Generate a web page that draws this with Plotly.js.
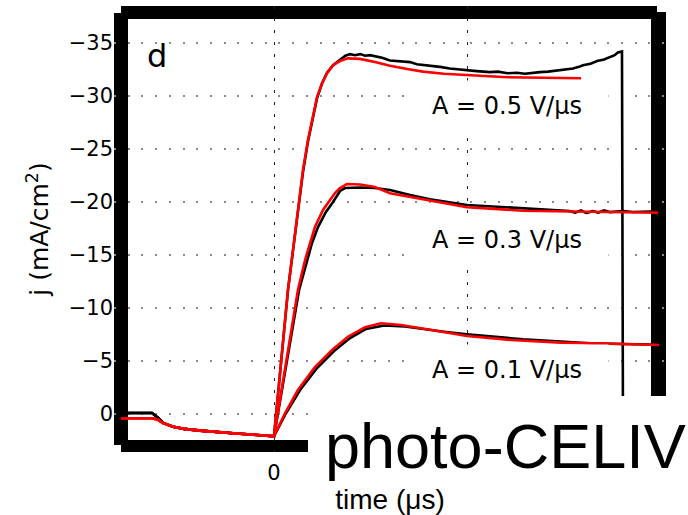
<!DOCTYPE html>
<html>
<head>
<meta charset="utf-8">
<script src="https://cdn.plot.ly/plotly-3.0.1.min.js"></script>
<style>html,body{margin:0;padding:0;background:#fff;}#chart{width:688px;height:515px;}</style>
</head>
<body>
<div id="chart"></div>
<script>
// ---- data (time in grid units, j in mA/cm^2) ----
const tPre     = [-0.793, -0.632, -0.601, -0.575, -0.523, -0.466, -0.383, -0.300, -0.212, -0.104];
const jPreData = [-0.1, -0.1, 0.35, 0.85, 1.2, 1.4, 1.57, 1.72, 1.82, 1.96];
const jPreFit  = [0.4, 0.4, 0.55, 0.85, 1.2, 1.4, 1.57, 1.72, 1.82, 1.96];

const t05data = [0, 0.0725, 0.114, 0.150, 0.176, 0.197, 0.223, 0.249, 0.275, 0.306, 0.342, 0.370, 0.394, 0.420, 0.446, 0.472, 0.497, 0.523, 0.560, 0.601, 0.650, 0.705, 0.740, 0.772, 0.815, 0.860, 0.910, 0.955, 1.000, 1.050, 1.119, 1.160, 1.210, 1.259, 1.300, 1.340, 1.378, 1.420, 1.466, 1.510, 1.549, 1.580, 1.601, 1.640, 1.674, 1.710, 1.741, 1.765, 1.782, 1.803, 1.808];
const j05data = [2.1, -11.7, -17.6, -22.8, -25.7, -27.6, -29.8, -31.2, -32.2, -32.9, -33.4, -33.8, -33.95, -33.85, -33.95, -33.8, -33.85, -33.75, -33.6, -33.35, -33.3, -33.2, -33.0, -32.95, -32.85, -32.75, -32.6, -32.5, -32.4, -32.35, -32.25, -32.3, -32.15, -32.2, -32.1, -32.2, -32.25, -32.3, -32.4, -32.45, -32.6, -32.75, -32.9, -33.05, -33.3, -33.45, -33.7, -33.85, -34.1, -34.2, 0];
const t05fit  = [0, 0.0725, 0.114, 0.150, 0.176, 0.197, 0.223, 0.249, 0.275, 0.306, 0.342, 0.383, 0.446, 0.523, 0.601, 0.690, 0.772, 0.880, 1.000, 1.100, 1.207, 1.300, 1.378, 1.480, 1.591];
const j05fit  = [2.1, -11.7, -17.8, -23.0, -25.85, -27.7, -29.9, -31.2, -32.15, -32.9, -33.3, -33.55, -33.5, -33.2, -32.85, -32.55, -32.3, -32.1, -31.98, -31.86, -31.77, -31.74, -31.72, -31.7, -31.67];

const t03data = [0, 0.130, 0.171, 0.197, 0.228, 0.269, 0.306, 0.342, 0.368, 0.446, 0.523, 0.601, 0.705, 0.808, 1.000, 1.207, 1.466, 1.530, 1.560, 1.590, 1.620, 1.650, 1.680, 1.710, 1.740, 1.808, 1.860, 1.953];
const j03data = [2.1, -11.7, -14.53, -16.13, -17.64, -19.06, -20.0, -21.04, -21.32, -21.37, -21.32, -21.13, -20.66, -20.25, -19.72, -19.5, -19.25, -19.15, -19.0, -19.2, -18.95, -19.15, -19.0, -19.2, -19.05, -19.15, -19.05, -19.1];
const t03fit  = [0, 0.124, 0.161, 0.187, 0.212, 0.254, 0.290, 0.316, 0.342, 0.378, 0.446, 0.523, 0.601, 0.772, 1.000, 1.290, 1.637, 1.990];
const j03fit  = [2.1, -11.7, -14.53, -16.13, -17.64, -19.25, -20.19, -20.85, -21.32, -21.7, -21.65, -21.42, -20.82, -20.25, -19.5, -19.18, -19.06, -18.99];

const t01data = [0, 0.062, 0.135, 0.223, 0.311, 0.394, 0.477, 0.570, 0.679, 0.881, 1.000, 1.290, 1.637, 1.808, 1.953];
const j01data = [2.1, -0.07, -2.26, -4.34, -5.94, -7.17, -8.02, -8.35, -8.25, -7.76, -7.52, -7.05, -6.67, -6.6, -6.56];
const t01fit  = [0, 0.057, 0.124, 0.212, 0.301, 0.383, 0.472, 0.554, 0.658, 0.793, 1.000, 1.228, 1.487, 1.803, 1.995];
const j01fit  = [2.1, -0.07, -2.26, -4.43, -6.04, -7.29, -8.18, -8.56, -8.40, -7.99, -7.36, -6.98, -6.73, -6.60, -6.51];

const yTicks = [-35, -30, -25, -20, -15, -10, -5, 0];
const xTicks = [0];
const xGridExtra = [1];
const seriesLabels = ['A = 0.5 V/\u03bcs', 'A = 0.3 V/\u03bcs', 'A = 0.1 V/\u03bcs'];

// ---- layout geometry ----
const W = 688, H = 515;
const M = {l: 114, r: 22, t: 6, b: 63};
const PW = W - M.l - M.r, PH = H - M.t - M.b;
const px = x => (x - M.l) / PW;
const py = y => (M.t + PH - y) / PH;

const withPre = (pre, t, j) => ({x: tPre.concat(t), y: pre.concat(j)});
const blk = {color: '#000', width: 2.6};
const red = {color: '#ff0000', width: 2.6};
const mk = (d, line) => ({x: d.x, y: d.y, type: 'scatter', mode: 'lines', line: line, hoverinfo: 'skip', showlegend: false});

const traces = [
  mk(withPre(jPreData, t05data, j05data), blk),
  mk(withPre(jPreData, t03data, j03data), blk),
  mk(withPre(jPreData, t01data, j01data), blk),
  mk(withPre(jPreFit, t05fit, j05fit), red),
  mk(withPre(jPreFit, t03fit, j03fit), red),
  mk(withPre(jPreFit, t01fit, j01fit), red)
];

const rect = (x0, y0, x1, y1, color, layer) => ({
  type: 'rect', xref: 'paper', yref: 'paper',
  x0: px(x0), x1: px(x1), y0: py(y1), y1: py(y0),
  fillcolor: color, line: {width: 0}, layer: layer
});

const labelYs = [106, 240, 370];

const layout = {
  width: W, height: H,
  margin: M,
  paper_bgcolor: '#fff', plot_bgcolor: '#fff',
  font: {family: 'DejaVu Sans', color: '#000', size: 21},
  showlegend: false,
  xaxis: {
    range: [(M.l - 274) / 193, (W - M.r - 274) / 193],
    tickvals: xTicks,
    ticks: '', showline: false, zeroline: false,
    showgrid: true, gridcolor: '#222', gridwidth: 1, griddash: '3px,9px',
    minor: {tickvals: xGridExtra, showgrid: true, gridcolor: '#222', gridwidth: 1, griddash: '3px,9px', ticks: ''},
    ticklabelstandoff: 6,
    tickfont: {family: 'DejaVu Sans', size: 21},
    title: {text: 'time (\u03bcs)', font: {family: 'Liberation Sans', size: 28}, standoff: 6}
  },
  yaxis: {
    range: [(M.t + PH - 414) / 10.6, (M.t - 414) / 10.6],
    tickvals: yTicks,
    ticks: '', showline: false, zeroline: false,
    showgrid: true, gridcolor: '#8a8a8a', gridwidth: 1.6, griddash: '2px,11.7px',
    ticklabelstandoff: 0,
    tickfont: {family: 'DejaVu Sans', size: 21},
    title: {text: 'j (mA/cm<sup>2</sup>)', font: {family: 'DejaVu Sans', size: 25}, standoff: 12}
  },
  shapes: [
    rect(114, 13, 128, 445, '#000', 'between'),
    rect(121, 6, 657, 19, '#000', 'between'),
    rect(651, 12, 666, 396, '#000', 'between'),
    rect(121, 440, 308, 452, '#000', 'between'),
    rect(309, 396, 700, 482, '#fff', 'above')
  ],
  annotations: [
    {xref: 'paper', yref: 'paper', x: px(145), y: py(56), xanchor: 'left', yanchor: 'middle',
     text: 'd', showarrow: false, font: {family: 'DejaVu Sans', size: 32}},
    ...seriesLabels.map((s, i) => ({
      xref: 'paper', yref: 'paper', x: px(507), y: py(labelYs[i]), xanchor: 'center', yanchor: 'middle',
      text: s, showarrow: false, bgcolor: '#fff', width: 200, height: 48,
      font: {family: 'DejaVu Sans', size: 24}
    })),
    {xref: 'paper', yref: 'paper', x: px(323), y: py(446), xanchor: 'left', yanchor: 'middle',
     text: 'photo-CELIV', showarrow: false, font: {family: 'Liberation Sans', size: 63}}
  ]
};

Plotly.newPlot('chart', traces, layout, {displayModeBar: false, staticPlot: true});
</script>
</body>
</html>
